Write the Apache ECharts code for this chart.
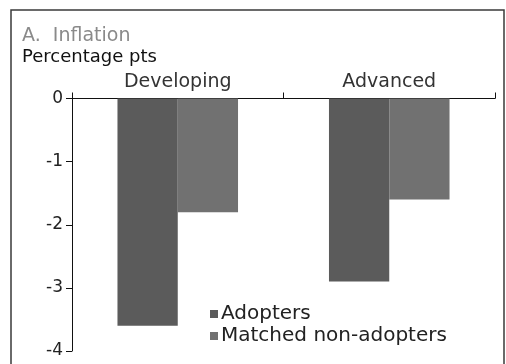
<!DOCTYPE html>
<html>
<head>
<meta charset="utf-8">
<script src="https://cdn.jsdelivr.net/npm/echarts@6/dist/echarts.min.js"></script>
<style>
  html, body { margin: 0; padding: 0; background: #fff; }
  #chart { width: 506px; height: 364px; }
</style>
</head>
<body>
<div id="chart"></div>
<script>
// Change in inflation after adoption, percentage points
const categories = ['Developing', 'Advanced'];
const adopters = [-3.6, -2.9];
const matchedNonAdopters = [-1.8, -1.6];
const yTicks = { min: -4, max: 0, interval: 1 };

const font = 'DejaVu Sans, Verdana, sans-serif';
const chart = echarts.init(document.getElementById('chart'), null, { renderer: 'canvas' });

chart.setOption({
  animation: false,
  backgroundColor: '#fff',
  textStyle: { fontFamily: font },
  grid: { left: 72, right: 11, top: 98.5, bottom: 13, containLabel: false },
  graphic: [
    {
      type: 'rect',
      shape: { x: 11, y: 10, width: 493, height: 370 },
      style: { fill: 'none', stroke: '#3a3a3a', lineWidth: 1.5 },
      silent: true
    },
    {
      type: 'text', left: 22, top: 27,
      style: { text: 'A.  Inflation', fill: '#8a8a8a', font: '19px ' + font }
    },
    {
      type: 'text', left: 22, top: 48,
      style: { text: 'Percentage pts', fill: '#111', font: '18px ' + font }
    }
  ],
  xAxis: {
    type: 'category',
    position: 'top',
    data: categories,
    axisLine: { lineStyle: { color: '#111', width: 1 } },
    axisTick: { show: true, length: 6, lineStyle: { color: '#111' } },
    axisLabel: { color: '#333', fontSize: 19, margin: 7, fontFamily: font }
  },
  yAxis: {
    type: 'value',
    min: yTicks.min,
    max: yTicks.max,
    interval: yTicks.interval,
    splitLine: { show: false },
    axisLine: { show: true, lineStyle: { color: '#111', width: 1 } },
    axisTick: { show: true, length: 6, lineStyle: { color: '#111' } },
    axisLabel: { color: '#222', fontSize: 17, margin: 9, fontFamily: font }
  },
  legend: {
    orient: 'vertical',
    left: 205,
    top: 299,
    itemWidth: 8,
    itemHeight: 8,
    itemGap: 2,
    icon: 'rect',
    textStyle: { color: '#222', fontSize: 20, fontFamily: font, padding: [0, 0, 0, -2] },
    data: ['Adopters', 'Matched non-adopters']
  },
  series: [
    {
      name: 'Adopters',
      type: 'bar',
      data: adopters,
      barGap: '0%',
      barCategoryGap: '43%',
      itemStyle: { color: '#5b5b5b' }
    },
    {
      name: 'Matched non-adopters',
      type: 'bar',
      data: matchedNonAdopters,
      itemStyle: { color: '#717171' }
    }
  ]
});
</script>
</body>
</html>
